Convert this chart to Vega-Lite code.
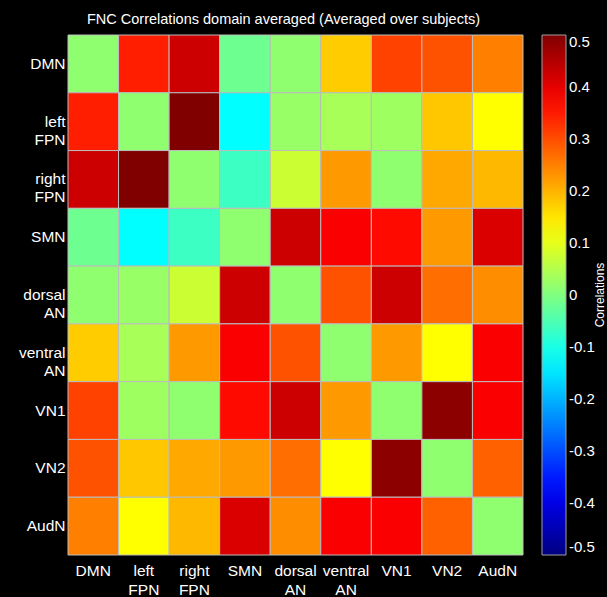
{
  "$schema": "https://vega.github.io/schema/vega-lite/v6.json",
  "width": 455,
  "height": 520,
  "autosize": {"type": "none"},
  "padding": {"left": 68, "top": 35, "right": 84, "bottom": 42},
  "background": "black",
  "title": {
    "text": "FNC Correlations domain averaged (Averaged over subjects)",
    "color": "white",
    "font": "Liberation Sans",
    "fontSize": 14.5,
    "fontWeight": "normal",
    "anchor": "middle",
    "dx": -12,
    "offset": 7
  },
  "config": {
    "view": {"stroke": null},
    "font": "Liberation Sans"
  },
  "data": {
    "values": [
      {"row":"DMN","col":"DMN","r":0.015},{"row":"DMN","col":"left FPN","r":0.345},{"row":"DMN","col":"right FPN","r":0.425},{"row":"DMN","col":"SMN","r":-0.017},{"row":"DMN","col":"dorsal AN","r":0.015},{"row":"DMN","col":"ventral AN","r":0.175},{"row":"DMN","col":"VN1","r":0.31},{"row":"DMN","col":"VN2","r":0.295},{"row":"DMN","col":"AudN","r":0.25},
      {"row":"left FPN","col":"DMN","r":0.345},{"row":"left FPN","col":"left FPN","r":0.015},{"row":"left FPN","col":"right FPN","r":0.5},{"row":"left FPN","col":"SMN","r":-0.125},{"row":"left FPN","col":"dorsal AN","r":0.025},{"row":"left FPN","col":"ventral AN","r":0.04},{"row":"left FPN","col":"VN1","r":0.03},{"row":"left FPN","col":"VN2","r":0.18},{"row":"left FPN","col":"AudN","r":0.125},
      {"row":"right FPN","col":"DMN","r":0.425},{"row":"right FPN","col":"left FPN","r":0.5},{"row":"right FPN","col":"right FPN","r":0.015},{"row":"right FPN","col":"SMN","r":-0.066},{"row":"right FPN","col":"dorsal AN","r":0.075},{"row":"right FPN","col":"ventral AN","r":0.225},{"row":"right FPN","col":"VN1","r":0.015},{"row":"right FPN","col":"VN2","r":0.21},{"row":"right FPN","col":"AudN","r":0.195},
      {"row":"SMN","col":"DMN","r":-0.017},{"row":"SMN","col":"left FPN","r":-0.125},{"row":"SMN","col":"right FPN","r":-0.066},{"row":"SMN","col":"SMN","r":0.015},{"row":"SMN","col":"dorsal AN","r":0.425},{"row":"SMN","col":"ventral AN","r":0.38},{"row":"SMN","col":"VN1","r":0.365},{"row":"SMN","col":"VN2","r":0.225},{"row":"SMN","col":"AudN","r":0.41},
      {"row":"dorsal AN","col":"DMN","r":0.015},{"row":"dorsal AN","col":"left FPN","r":0.025},{"row":"dorsal AN","col":"right FPN","r":0.075},{"row":"dorsal AN","col":"SMN","r":0.425},{"row":"dorsal AN","col":"dorsal AN","r":0.015},{"row":"dorsal AN","col":"ventral AN","r":0.295},{"row":"dorsal AN","col":"VN1","r":0.425},{"row":"dorsal AN","col":"VN2","r":0.267},{"row":"dorsal AN","col":"AudN","r":0.237},
      {"row":"ventral AN","col":"DMN","r":0.175},{"row":"ventral AN","col":"left FPN","r":0.04},{"row":"ventral AN","col":"right FPN","r":0.225},{"row":"ventral AN","col":"SMN","r":0.38},{"row":"ventral AN","col":"dorsal AN","r":0.295},{"row":"ventral AN","col":"ventral AN","r":0.015},{"row":"ventral AN","col":"VN1","r":0.225},{"row":"ventral AN","col":"VN2","r":0.125},{"row":"ventral AN","col":"AudN","r":0.38},
      {"row":"VN1","col":"DMN","r":0.31},{"row":"VN1","col":"left FPN","r":0.03},{"row":"VN1","col":"right FPN","r":0.015},{"row":"VN1","col":"SMN","r":0.365},{"row":"VN1","col":"dorsal AN","r":0.425},{"row":"VN1","col":"ventral AN","r":0.225},{"row":"VN1","col":"VN1","r":0.015},{"row":"VN1","col":"VN2","r":0.4875},{"row":"VN1","col":"AudN","r":0.38},
      {"row":"VN2","col":"DMN","r":0.295},{"row":"VN2","col":"left FPN","r":0.18},{"row":"VN2","col":"right FPN","r":0.21},{"row":"VN2","col":"SMN","r":0.225},{"row":"VN2","col":"dorsal AN","r":0.267},{"row":"VN2","col":"ventral AN","r":0.125},{"row":"VN2","col":"VN1","r":0.4875},{"row":"VN2","col":"VN2","r":0.015},{"row":"VN2","col":"AudN","r":0.28},
      {"row":"AudN","col":"DMN","r":0.25},{"row":"AudN","col":"left FPN","r":0.125},{"row":"AudN","col":"right FPN","r":0.195},{"row":"AudN","col":"SMN","r":0.41},{"row":"AudN","col":"dorsal AN","r":0.237},{"row":"AudN","col":"ventral AN","r":0.38},{"row":"AudN","col":"VN1","r":0.38},{"row":"AudN","col":"VN2","r":0.28},{"row":"AudN","col":"AudN","r":0.015}
    ]
  },
  "mark": {"type": "rect", "stroke": "#bdbdbd", "strokeWidth": 1},
  "encoding": {
    "x": {
      "field": "col", "type": "nominal",
      "sort": ["DMN","left FPN","right FPN","SMN","dorsal AN","ventral AN","VN1","VN2","AudN"],
      "scale": {"paddingInner": 0, "paddingOuter": 0},
      "axis": {
        "title": null, "ticks": false, "domain": false, "labelAngle": 0,
        "labelColor": "white", "labelFontSize": 15.5, "labelPadding": 8,
        "labelBaseline": "top", "labelLineHeight": 19,
        "labelExpr": "split(datum.label, ' ')"
      }
    },
    "y": {
      "field": "row", "type": "nominal",
      "sort": ["DMN","left FPN","right FPN","SMN","dorsal AN","ventral AN","VN1","VN2","AudN"],
      "scale": {"paddingInner": 0, "paddingOuter": 0},
      "axis": {
        "title": null, "ticks": false, "domain": false,
        "labelColor": "white", "labelFontSize": 15.5, "labelPadding": 3,
        "labelLineHeight": 18, "labelBaseline": "middle",
        "labelExpr": "split(datum.label, ' ')"
      }
    },
    "color": {
      "field": "r", "type": "quantitative",
      "scale": {
        "type": "linear",
        "domain": [-0.5, -0.375, -0.125, 0.125, 0.375, 0.5],
        "range": ["#000080", "#0000ff", "#00ffff", "#ffff00", "#ff0000", "#800000"],
        "interpolate": "rgb"
      },
      "legend": {
        "title": "Correlations",
        "titleColor": "white",
        "titleFontSize": 12,
        "titleFontWeight": "normal",
        "titleOrient": "right",
        "titleAnchor": "middle",
        "titlePadding": 0,
        "orient": "right",
        "offset": 19,
        "padding": 0,
        "gradientLength": 520,
        "gradientThickness": 24,
        "gradientStrokeColor": "#a0a0a0",
        "gradientStrokeWidth": 1,
        "values": [-0.5, -0.4, -0.3, -0.2, -0.1, 0, 0.1, 0.2, 0.3, 0.4, 0.5],
        "labelExpr": "datum.value == 0 ? '0' : toString(round(datum.value * 10) / 10)",
        "labelColor": "white",
        "labelFontSize": 15,
        "labelOffset": 3,
        "labelOverlap": false,
        "encode": {
          "title": {
            "update": {
              "angle": {"value": 270},
              "baseline": {"value": "top"}
            }
          }
        }
      }
    }
  }
}
